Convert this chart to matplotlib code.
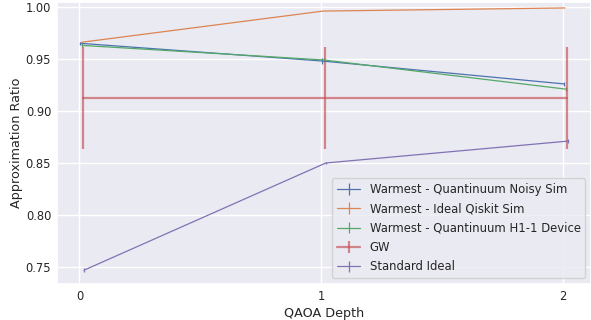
import numpy as np
import matplotlib
matplotlib.use("Agg")
import matplotlib.pyplot as plt
import seaborn as sns

sns.set_theme(style="darkgrid")

depths = [0, 1, 2]
series_names = [
    "Warmest - Quantinuum Noisy Sim",
    "Warmest - Ideal Qiskit Sim",
    "Warmest - Quantinuum H1-1 Device",
    "GW",
    "Standard Ideal",
]
noisy_sim = [0.965, 0.948, 0.926]
noisy_sim_err = [0.0015, 0.003, 0.002]
ideal_qiskit = [0.966, 0.996, 0.999]
ideal_qiskit_err = [0.0, 0.0, 0.0]
h1_device = [0.963, 0.949, 0.921]
h1_device_err = [0.002, 0.002, 0.002]
gw = [0.912, 0.912, 0.912]
gw_err = [0.049, 0.049, 0.049]
standard_ideal = [0.747, 0.850, 0.871]
standard_ideal_err = [0.002, 0.001, 0.002]

values = [noisy_sim, ideal_qiskit, h1_device, gw, standard_ideal]
errors = [noisy_sim_err, ideal_qiskit_err, h1_device_err, gw_err, standard_ideal_err]
offsets = [0.004, 0.008, 0.011, 0.015, 0.019]  # small x jitter between series
colors = sns.color_palette()[:5]

fig, ax = plt.subplots(figsize=(5.91, 3.2), dpi=100)
for i, (name, vals, errs) in enumerate(zip(series_names, values, errors)):
    x = np.array(depths) + offsets[i]
    if name == "GW":
        ax.errorbar(x, vals, yerr=errs, color=colors[i], lw=1.6, alpha=0.65,
                    label=name)
    else:
        ax.errorbar(x, vals, yerr=errs, color=colors[i], lw=0.9, label=name)

ax.set_xticks(depths)
ax.set_xlim(-0.094, 2.116)
ax.set_ylim(0.7337, 1.0048)
ax.set_xlabel("QAOA Depth", fontsize=9.2, labelpad=3)
ax.set_ylabel("Approximation Ratio", fontsize=9.2, labelpad=2)
ax.tick_params(labelsize=8.3, length=0, pad=4)
ax.legend(loc="lower right", fontsize=8.4, labelspacing=0.55)
fig.subplots_adjust(left=0.096, right=1.0, top=0.994, bottom=0.1125)
fig.savefig("out.png", dpi=100)
